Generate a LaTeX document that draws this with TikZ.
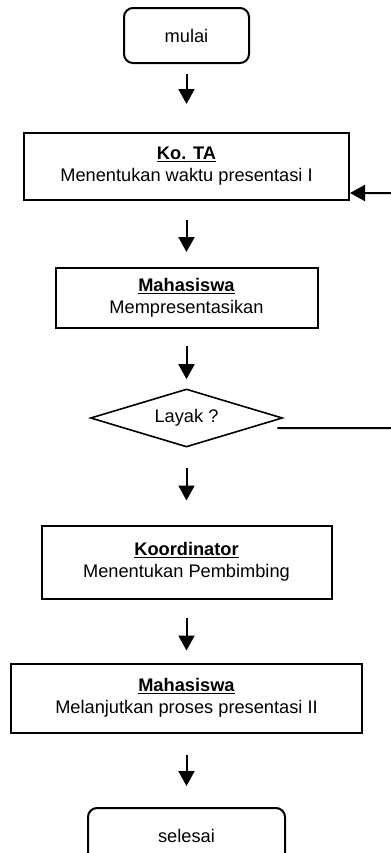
\documentclass[tikz,border=0pt]{standalone}
\usepackage{fontspec}
\setmainfont{Liberation Sans}
\usetikzlibrary{arrows.meta,shapes}

\begin{document}
\begin{tikzpicture}[font=\fontsize{18.3}{22}\selectfont,
  proses/.style={draw,rectangle,line width=2bp,align=center,inner sep=0pt},
  terminal/.style={draw,rectangle,rounded corners=9bp,line width=2bp,inner sep=0pt,minimum height=55bp},
  keputusan/.style={draw,diamond,aspect=3.3,line width=1.6bp,inner sep=0pt,minimum width=192bp,minimum height=58bp},
  alur/.style={-{Triangle[width=16bp,length=15bp]},line width=2bp}]

\useasboundingbox (0bp,0bp) rectangle (391bp,-853bp);

\node (mulai) at (186.5bp,-35.5bp)[terminal,minimum width=125bp] {mulai};
\node (kota) at (186.5bp,-166.5bp)[proses,minimum width=325bp,minimum height=67bp] {\underline{\textbf{Ko. TA}}\\Menentukan waktu presentasi I};
\node (mhs1) at (186.5bp,-298bp)[proses,minimum width=262bp,minimum height=60bp] {\underline{\textbf{Mahasiswa}}\\Mempresentasikan};
\node (layak) at (186.5bp,-418bp)[keputusan] {Layak ?};
\node (koord) at (186.5bp,-562bp)[proses,minimum width=290bp,minimum height=73bp] {\underline{\textbf{Koordinator}}\\Menentukan Pembimbing};
\node (mhs2) at (186.5bp,-698bp)[proses,minimum width=351bp,minimum height=69bp] {\underline{\textbf{Mahasiswa}}\\Melanjutkan proses presentasi II};
\node (selesai) at (186.5bp,-835.5bp)[terminal,minimum width=197bp] {selesai};
\coordinate (balikbawah) at (396bp,-428bp);
\coordinate (balikatas) at (396bp,-193bp);

\draw [alur,shorten <=10bp,shorten >=28bp] (mulai) -- (kota);
\draw [alur,shorten <=19bp,shorten >=15bp] (kota) -- (mhs1);
\draw [alur,shorten <=17bp,shorten >=9bp] (mhs1) -- (layak);
\draw [alur,shorten <=20bp,shorten >=24bp] (layak) -- (koord);
\draw [alur,shorten <=18bp,shorten >=12bp] (koord) -- (mhs2);
\draw [alur,shorten <=21bp,shorten >=21bp] (mhs2) -- (selesai);
\draw [alur] ([xshift=-6bp,yshift=-10bp]layak.east) -- (balikbawah) -- (balikatas) -- (kota.east |- balikatas);
\end{tikzpicture}
\end{document}
